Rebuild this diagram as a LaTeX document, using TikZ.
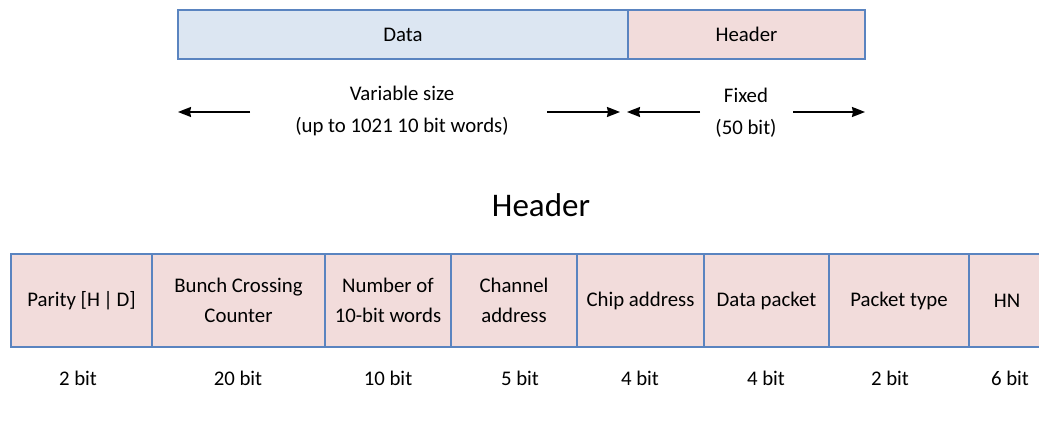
\documentclass[tikz,border=0pt]{standalone}
\usepackage{fontspec}
\setmainfont{Carlito}
\usepackage{tikz}
\usetikzlibrary{arrows.meta, positioning}
\usepackage{xcolor}
\definecolor{boxblue}{RGB}{90,132,192}
\definecolor{datafill}{RGB}{220,230,242}
\definecolor{headfill}{RGB}{242,220,219}

\tikzset{
  field/.style={draw=boxblue, line width=2.2pt, fill=headfill, inner sep=0pt, outer sep=0pt,
    minimum height=93pt, align=center, font=\fontsize{20.8}{30}\selectfont},
  bar/.style={draw=boxblue, line width=2.2pt, inner sep=0pt, outer sep=0pt,
    minimum height=49pt, font=\fontsize{20.8}{30}\selectfont},
  lbl/.style={align=center, font=\fontsize{20.8}{31.5}\selectfont},
  sizearrow/.style={-{Stealth[length=13pt,width=10pt,inset=1pt]}, line width=1.8pt},
}

\begin{document}
\begin{tikzpicture}[x=1pt,y=-1pt]
  \useasboundingbox (0,0) rectangle (1039,438);
  % Packet: data + header
  \node[bar, fill=datafill, anchor=north west, minimum width=450pt] (data) at (178,10) {Data};
  \node[bar, fill=headfill, right=0pt of data, minimum width=237pt] (header) {Header};
  % Size annotations
  \node[lbl] (varsize) at (402,111) {Variable size\\(up to 1021 10 bit words)};
  \node[lbl] (fixsize) at (746,112.5) {Fixed\\(50 bit)};
  \coordinate (vl) at (250,112);
  \coordinate (vr) at (547,112);
  \coordinate (fl) at (700,112);
  \coordinate (fr) at (793,112);
  \draw[sizearrow] (vl) -- (vl -| data.west);
  \draw[sizearrow] (vr) -- ([xshift=-8pt]vr -| data.east);
  \draw[sizearrow] (fl) -- ([xshift=-1pt]fl -| data.east);
  \draw[sizearrow] (fr) -- (fr -| header.east);
  % Header fields
  \node[font=\fontsize{33}{40}\selectfont] (title) at (541,205) {Header};
  \node[field, anchor=north west, minimum width=141pt] (parity) at (11,254) {Parity [H\,|\,D]};
  \node[field, right=0pt of parity, minimum width=173pt] (bcc) {Bunch Crossing\\Counter};
  \node[field, right=0pt of bcc, minimum width=126pt] (nwords) {Number of\\10-bit words};
  \node[field, right=0pt of nwords, minimum width=126pt] (chan) {Channel\\address};
  \node[field, right=0pt of chan, minimum width=127pt] (chip) {Chip address};
  \node[field, right=0pt of chip, minimum width=125pt] (dpkt) {Data packet};
  \node[field, right=0pt of dpkt, minimum width=140pt] (ptype) {Packet type};
  \node[field, right=0pt of ptype, minimum width=76pt] (hn) {HN};
  % Field sizes
  \node[lbl] (bparity) at (78,378) {2 bit};
  \node[lbl] (bbcc) at (238,378) {20 bit};
  \node[lbl] (bnwords) at (388,378) {10 bit};
  \node[lbl] (bchan) at (520,378) {5 bit};
  \node[lbl] (bchip) at (640,378) {4 bit};
  \node[lbl] (bdpkt) at (766,378) {4 bit};
  \node[lbl] (bptype) at (890,378) {2 bit};
  \node[lbl] (bhn) at (1010,378) {6 bit};
\end{tikzpicture}
\end{document}
